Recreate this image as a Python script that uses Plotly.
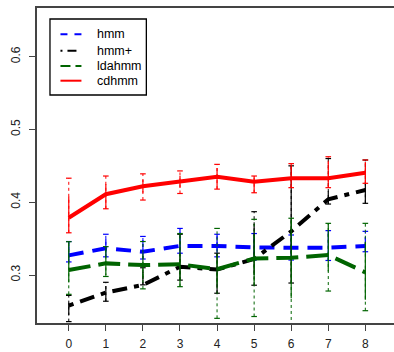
import plotly.graph_objects as go

# x positions
steps = [0, 1, 2, 3, 4, 5, 6, 7, 8]

# mean scores per model
hmm = [0.327, 0.3367, 0.332, 0.340, 0.340, 0.338, 0.3375, 0.3375, 0.340]
hmm_plus = [0.258, 0.276, 0.2863, 0.3114, 0.3075, 0.322, 0.360, 0.404, 0.4168]
ldahmm = [0.3069, 0.316, 0.3137, 0.3147, 0.308, 0.3227, 0.3237, 0.3275, 0.3037]
cdhmm = [0.3787, 0.411, 0.422, 0.428, 0.435, 0.428, 0.433, 0.433, 0.4405]

# outer ranges (dashed, capped)
hmm_lo = [0.318, 0.325, 0.322, 0.330, 0.325, 0.3206, 0.3206, 0.320, 0.332]
hmm_hi = [0.346, 0.356, 0.353, 0.364, 0.356, 0.357, 0.355, 0.361, 0.360]
hmm_plus_lo = [0.236, 0.264, 0.2865, 0.293, 0.275, 0.286, 0.289, 0.3975, 0.3985]
hmm_plus_hi = [0.272, 0.290, 0.310, 0.356, 0.330, 0.387, 0.450, 0.460, 0.458]
ldahmm_lo = [0.2735, 0.298, 0.281, 0.284, 0.2405, 0.243, 0.230, 0.278, 0.251]
ldahmm_hi = [0.3458, 0.339, 0.346, 0.357, 0.364, 0.3765, 0.378, 0.371, 0.371]
cdhmm_lo = [0.358, 0.391, 0.403, 0.412, 0.418, 0.413, 0.420, 0.420, 0.426]
cdhmm_hi = [0.433, 0.436, 0.439, 0.443, 0.452, 0.436, 0.453, 0.4625, 0.458]

# inner ranges (solid)
hmm_slo = [0.318, 0.325, 0.322, 0.330, 0.325, 0.3206, 0.3206, 0.320, 0.332]
hmm_shi = [0.346, 0.350, 0.348, 0.364, 0.356, 0.352, 0.355, 0.361, 0.352]
hmm_plus_slo = [0.245, 0.264, 0.2865, 0.293, 0.275, 0.300, 0.289, 0.3975, 0.3985]
hmm_plus_shi = [0.262, 0.285, 0.305, 0.330, 0.330, 0.370, 0.450, 0.415, 0.425]
ldahmm_slo = [0.290, 0.300, 0.295, 0.284, 0.286, 0.286, 0.268, 0.305, 0.266]
ldahmm_shi = [0.3458, 0.339, 0.330, 0.357, 0.330, 0.357, 0.378, 0.371, 0.345]
cdhmm_slo = [0.358, 0.391, 0.413, 0.420, 0.418, 0.413, 0.420, 0.420, 0.426]
cdhmm_shi = [0.408, 0.425, 0.431, 0.436, 0.447, 0.436, 0.453, 0.455, 0.455]

names = ["hmm", "hmm+", "ldahmm", "cdhmm"]
colors = ["#0000FF", "#000000", "#006400", "#FF0000"]
line_dash = ["15px,9px", "5px,7px,15px,7px", "22px,8px", "solid"]
legend_dash = ["7px,7px", "2px,5px,9px,5px", "10px,5px", "solid"]

series = [
    (hmm, hmm_lo, hmm_hi, hmm_slo, hmm_shi),
    (hmm_plus, hmm_plus_lo, hmm_plus_hi, hmm_plus_slo, hmm_plus_shi),
    (ldahmm, ldahmm_lo, ldahmm_hi, ldahmm_slo, ldahmm_shi),
    (cdhmm, cdhmm_lo, cdhmm_hi, cdhmm_slo, cdhmm_shi),
]


def segments(xs, lo, hi):
    sx, sy = [], []
    for x, a, b in zip(xs, lo, hi):
        sx += [x, x, None]
        sy += [a, b, None]
    return sx, sy


fig = go.Figure()
for name, col, dash, (mean, lo, hi, slo, shi) in zip(names, colors, line_dash, series):
    fig.add_trace(go.Scatter(
        x=steps, y=mean, mode="lines", name=name,
        line=dict(color=col, width=4, dash=dash), showlegend=False))
    dx, dy = segments(steps, lo, hi)
    fig.add_trace(go.Scatter(
        x=dx, y=dy, mode="lines", line=dict(color=col, width=1, dash="3px,3px"),
        showlegend=False, hoverinfo="skip"))
    sx, sy = segments(steps, slo, shi)
    fig.add_trace(go.Scatter(
        x=sx, y=sy, mode="lines", line=dict(color=col, width=1.2),
        showlegend=False, hoverinfo="skip"))
    fig.add_trace(go.Scatter(
        x=steps + steps, y=lo + hi, mode="markers",
        marker=dict(symbol="line-ew", size=4, line=dict(color=col, width=1.2)),
        showlegend=False, hoverinfo="skip"))

# plot area in pixels
L, R, T, B = 36.5, 394.0, 8.0, 323.0


def px(xp):
    return (xp - L) / (R - L)


def py(yp):
    return (B - yp) / (B - T)


shapes = [dict(type="rect", xref="paper", yref="paper",
               x0=px(49.5), x1=px(146), y0=py(95), y1=py(19),
               line=dict(color="black", width=1.3), fillcolor="white", layer="above")]
annotations = []
rows = [34.3, 50.7, 66.0, 80.7]
for name, col, dash, ry in zip(names, colors, legend_dash, rows):
    shapes.append(dict(type="line", xref="paper", yref="paper",
                       x0=px(60), x1=px(81), y0=py(ry), y1=py(ry),
                       line=dict(color=col, width=2, dash=dash), layer="above"))
    annotations.append(dict(xref="paper", yref="paper", x=px(94.5), y=py(ry),
                            text=name, showarrow=False, xanchor="left",
                            yanchor="middle",
                            font=dict(size=12.5, color="black")))

fig.update_layout(
    width=394, height=352,
    margin=dict(l=37, r=0, t=8, b=29),
    plot_bgcolor="white", paper_bgcolor="white",
    font=dict(family="Liberation Sans, Arial, sans-serif", size=12, color="#222"),
    shapes=shapes, annotations=annotations, showlegend=False,
    xaxis=dict(range=[-0.857, 8.773], tickvals=steps,
               ticktext=[str(s) for s in steps],
               showgrid=False, zeroline=False, showline=True, mirror=True,
               linecolor="#444", linewidth=1.5, ticks="outside", ticklen=6,
               tickcolor="#444", ticklabelstandoff=3, automargin=False),
    yaxis=dict(range=[0.2341, 0.6668], tickvals=[0.3, 0.4, 0.5, 0.6],
               ticktext=["0.3", "0.4", "0.5", "0.6"], tickangle=-90,
               showgrid=False, zeroline=False, showline=True,
               linecolor="#444", linewidth=1.5, ticks="outside", ticklen=6,
               tickcolor="#444", ticklabelstandoff=4, automargin=False),
)

fig.write_html("out.html")
